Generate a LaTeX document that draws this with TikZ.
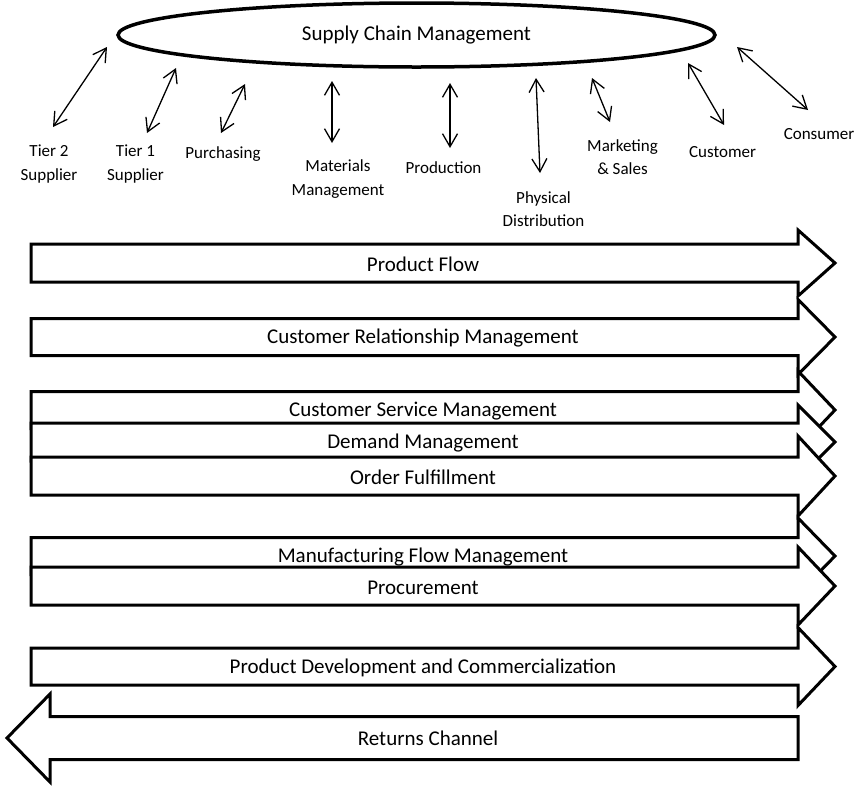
\documentclass[tikz,border=0pt]{standalone}
\usepackage{fontspec}
\setmainfont{Carlito}
\usetikzlibrary{arrows.meta,shapes.geometric}

\newcommand{\processarrow}[5]{%
  \draw[flow] (31,#2-#3) -- (798,#2-#3) -- (798,#2-#4) -- (835,#2)
    -- (798,#2+#4) -- (798,#2+#3) -- (31,#2+#3) -- cycle;
  \node[flowlabel] (#1) at (423,#2+1.5) {#5};
}

\begin{document}
\begin{tikzpicture}[x=1pt, y=-1pt, >={Straight Barb[length=13pt,width=15pt]}]
  \tikzset{
    scm/.style={draw, ellipse, line width=3.5pt, minimum width=597pt, minimum height=64pt, font=\fontsize{21}{25}\selectfont},
    func/.style={align=center, font=\fontsize{17}{23.5}\selectfont},
    link/.style={<->, line width=1.3pt},
    flow/.style={draw=black, fill=white, line width=3pt},
    flowlabel/.style={font=\fontsize{21}{25}\selectfont}
  }
  \useasboundingbox (0,0) rectangle (858,785);
  \node[scm] (scm) at (416.5,35) {Supply Chain Management};

  \node[func] (tier2) at (49,164) {Tier 2\\Supplier};
  \node[func] (tier1) at (135.5,164) {Tier 1\\Supplier};
  \node[func] (purch) at (223,154) {Purchasing};
  \node[func] (matl) at (338,179) {Materials\\Management};
  \node[func] (prod) at (443.5,168) {Production};
  \node[func] (phys) at (543.5,209) {Physical\\Distribution};
  \node[func] (mkt) at (622.5,157) {Marketing\\\& Sales};
  \node[func] (cust) at (722.5,152) {Customer};
  \node[func] (cons) at (819,134) {Consumer};

  \foreach \xa/\ya/\xb/\yb [count=\i] in {53/127/107/47, 147/133/176/68, 221/133/245/84,
      332/143/332/81, 450/148/450/83, 540/173/536/78, 610/122/592/78, 724/125/688/63, 808/110/737/47}{
    \coordinate (lo\i) at (\xa,\ya);
    \coordinate (hi\i) at (\xb,\yb);
    \draw[link] (lo\i) -- (hi\i);
  }

  \processarrow{pf}{263}{19}{33}{Product Flow}
  \processarrow{crm}{337}{18.5}{37.5}{Customer Relationship Management}
  \processarrow{csm}{410}{18.5}{39}{Customer Service Management}
  \processarrow{dm}{442}{19}{37}{Demand Management}
  \processarrow{of}{476}{19}{40}{Order Fulfillment}
  \processarrow{mfm}{556}{18.5}{38}{Manufacturing Flow Management}
  \processarrow{proc}{586}{19}{39}{Procurement}
  \processarrow{pdc}{666.5}{18.5}{39}{Product Development and Commercialization}

  \draw[flow] (798,716.5) -- (50,716.5) -- (50,694) -- (7,738) -- (50,782)
    -- (50,759.5) -- (798,759.5) -- cycle;
  \node[flowlabel] (ret) at (428,738) {Returns Channel};
\end{tikzpicture}
\end{document}
